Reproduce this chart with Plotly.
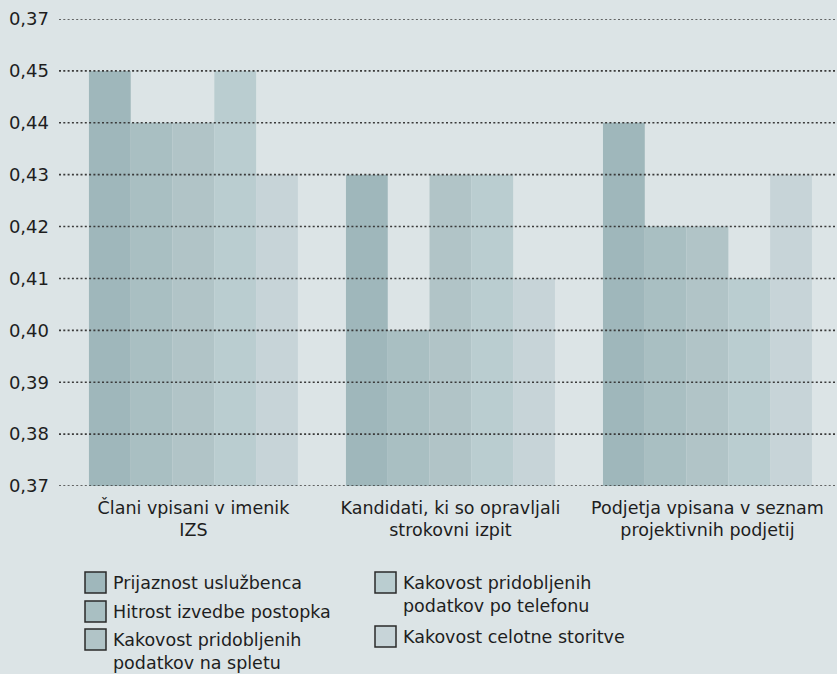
import plotly.graph_objects as go

categories = ["Člani vpisani v imenik<br>IZS",
              "Kandidati, ki so opravljali<br>strokovni izpit",
              "Podjetja vpisana v seznam<br>projektivnih podjetij"]
series_names = ["Prijaznost uslužbenca",
                "Hitrost izvedbe postopka",
                "Kakovost pridobljenih<br>podatkov na spletu",
                "Kakovost pridobljenih<br>podatkov po telefonu",
                "Kakovost celotne storitve"]
prijaznost = [0.45, 0.43, 0.44]
hitrost = [0.44, 0.40, 0.42]
splet = [0.44, 0.43, 0.42]
telefon = [0.45, 0.43, 0.41]
celotna = [0.43, 0.41, 0.43]
series_values = [prijaznost, hitrost, splet, telefon, celotna]
tick_vals = [0.37, 0.38, 0.39, 0.40, 0.41, 0.42, 0.43, 0.44, 0.45, 0.46]
tick_text = ["0,37", "0,38", "0,39", "0,40", "0,41", "0,42", "0,43", "0,44", "0,45", "0,37"]

colors = ["#9fb7bb", "#a9bfc2", "#b1c4c7", "#bacdd0", "#c7d4d8"]
BG = "#dce4e6"
FONT = "DejaVu Sans, Open Sans, sans-serif"
TXT = "#1e1e1e"

W, H = 837, 674
L, R, T, B = 59, 837, 19, 486

def px_x(x):
    return (x - L) / (R - L)

def px_y(y):
    return (B - y) / (B - T)

fig = go.Figure()
for name, vals, col in zip(series_names, series_values, colors):
    fig.add_trace(go.Bar(x=categories, y=vals, name=name, marker_color=col,
                         marker_line_width=0, showlegend=False))

shapes = []
for v in tick_vals:
    shapes.append(dict(type="line", xref="paper", yref="y", x0=0, x1=1, y0=v, y1=v,
                       line=dict(color="#3a3a3a", width=1.6, dash="2px,2.3px"), layer="above"))

# legend (two columns)
legend_pos = [(85, 572), (85, 601), (85, 629), (375, 572), (375, 626)]
annotations = []
for name, col, (lx, ly) in zip(series_names, colors, legend_pos):
    shapes.append(dict(type="rect", xref="paper", yref="paper",
                       x0=px_x(lx), x1=px_x(lx + 21), y0=px_y(ly), y1=px_y(ly + 21),
                       fillcolor=col, line=dict(color="#2a2a2a", width=1.5)))
    annotations.append(dict(xref="paper", yref="paper", x=px_x(lx + 26), y=px_y(ly - 1.5),
                            xanchor="left", yanchor="top", align="left", showarrow=False,
                            text=name, font=dict(family=FONT, size=17.5, color=TXT)))

fig.update_layout(
    width=W, height=H,
    margin=dict(l=L, r=W - R, t=T, b=H - B),
    paper_bgcolor=BG, plot_bgcolor=BG,
    barmode="group", bargap=0.187, bargroupgap=0,
    shapes=shapes, annotations=annotations,
    font=dict(family=FONT, color=TXT),
    xaxis=dict(range=[-0.523, 2.504], showgrid=False, zeroline=False, showline=False,
               ticks="", tickfont=dict(size=17.5, color=TXT), ticklabelstandoff=9),
    yaxis=dict(range=[0.37, 0.46], tickvals=tick_vals, ticktext=tick_text,
               showgrid=False, zeroline=False, showline=False, ticks="",
               tickfont=dict(size=18, color=TXT), ticklabelstandoff=9),
)

fig.write_html("out.html", config={"displayModeBar": False},
               post_script="document.body.style.margin='0';document.body.style.padding='0';")
